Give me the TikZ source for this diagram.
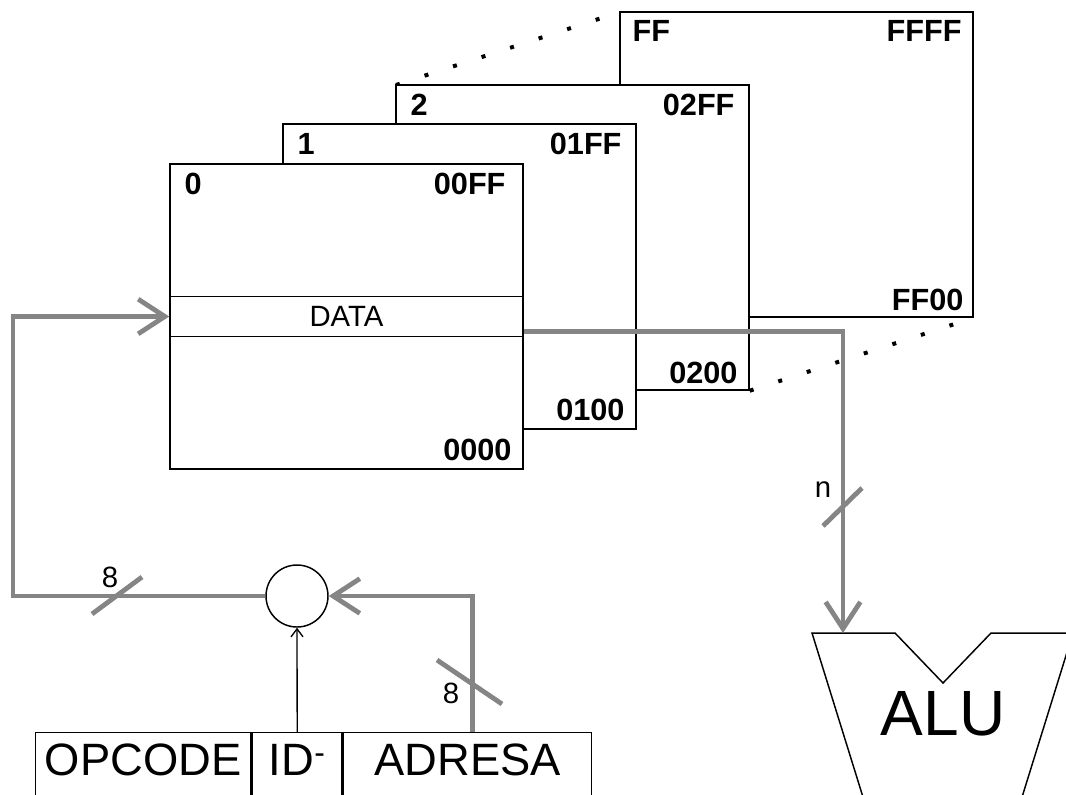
\documentclass[tikz,border=0pt]{standalone}
\usepackage{fontspec}
\setmainfont{Liberation Sans}
\usetikzlibrary{arrows.meta,positioning,calc}
\definecolor{busGray}{HTML}{858585}
\tikzset{
  page/.style={draw, line width=1.1pt, fill=white, minimum width=264.75pt, minimum height=228.75pt, inner sep=0pt},
  plbl/.style={font=\bfseries\fontsize{23}{23}\selectfont, inner sep=0pt},
  band/.style={draw, line width=1.1pt, fill=white, minimum width=264.75pt, minimum height=30pt, inner sep=0pt, font=\fontsize{22}{22}\selectfont},
  field/.style={draw, line width=1.1pt, inner sep=0pt, text height=32pt, text depth=20pt, font=\fontsize{34}{34}\selectfont},
  bus/.style={draw=busGray, line width=3.6pt},
  busarr/.style={bus, -{Straight Barb[length=20pt,width=26pt]}},
  slash/.style={draw=busGray, line width=3.6pt},
  wlbl/.style={font=\fontsize{22}{22}\selectfont, inner sep=0pt},
  dotline/.style={line width=3pt, dash pattern=on 3pt off 19.5pt},
  idarr/.style={line width=1pt, -{Straight Barb[length=6pt,width=9pt]}},
  alubody/.style={draw, line width=1.1pt, fill=white},
}

\begin{document}
\begin{tikzpicture}[x=0.75pt, y=-0.75pt]
  \useasboundingbox (0,0) rectangle (1066,794);
  \clip (0,0) rectangle (1066,794);
  % stacked pages
  \coordinate (dA) at (396,85);
  \coordinate (dB) at (620,12);
  \draw[dotline] (dA) -- (dB);
  \node[page] (pgFF) at (796.5,164.5) {};
  \node[page] (pg2) at (572.5,237.5) {};
  \node[page] (pg1) at (459.5,276.5) {};
  \node[page] (pg0) at (346.5,316.5) {};
  \draw[dotline] (pg2.south east) -- (pgFF.south east);
  \node[band] (data) at (pg0.center) {DATA};

  \node[plbl, anchor=north west] (t0) at ($(pg0.north west)+(15,10)$) {0};
  \node[plbl, anchor=north east] (r0) at ($(pg0.north east)+(-18,10)$) {00FF};
  \node[plbl, anchor=base east] (b0) at ($(pg0.south east)+(-12,-9)$) {0000};
  \node[plbl, anchor=north west] (t1) at ($(pg1.north west)+(15,10)$) {1};
  \node[plbl, anchor=north east] (r1) at ($(pg1.north east)+(-15,10)$) {01FF};
  \node[plbl, anchor=base east] (b1) at ($(pg1.south east)+(-12,-9)$) {0100};
  \node[plbl, anchor=north west] (t2) at ($(pg2.north west)+(15,10)$) {2};
  \node[plbl, anchor=north east] (r2) at ($(pg2.north east)+(-15,10)$) {02FF};
  \node[plbl, anchor=base east] (b2) at ($(pg2.south east)+(-12,-7)$) {0200};
  \node[plbl, anchor=north west] (tF) at ($(pgFF.north west)+(13,9)$) {FF};
  \node[plbl, anchor=north east] (rF) at ($(pgFF.north east)+(-12,9)$) {FFFF};
  \node[plbl, anchor=base east] (bF) at ($(pgFF.south east)+(-10,-7)$) {FF00};

  % instruction word
  \node[field, minimum width=161.25pt, anchor=north west] (opcode) at (35,732) {OPCODE};
  \node[field, minimum width=67.5pt, right=0pt of opcode] (idf) {ID\textsuperscript{-}};
  \node[field, minimum width=186pt, right=0pt of idf] (adresa) {ADRESA};
  \node[draw, circle, line width=1.1pt, minimum size=46.5pt, inner sep=0pt] (mux) at (297,596) {};

  % ALU
  \draw[alubody] (812,633) -- (895,633) -- (943,683) -- (991,633) -- (1073,633) -- (1018,810) -- (867,810) -- cycle;
  \node[font=\fontsize{48}{48}\selectfont, inner sep=0pt] (alu) at (943,714) {ALU};
  \coordinate (aluIn) at (843,633);
  \coordinate (loopL) at (13,596);

  % buses
  \draw[busarr] (mux.west) -- (loopL) |- (data.west);
  \draw[busarr] ($(adresa.north)+(5,0)$) |- (mux.east);
  \draw[idarr] (idf.north) -- (mux.south);
  \draw[busarr] ([yshift=-11.25pt]data.east) -| (aluIn);

  % bus widths
  \draw[slash] (92,614) -- (142,577);
  \node[wlbl] (w1) at (110,577) {8};
  \draw[slash] (437,660) -- (502,704);
  \node[wlbl] (w2) at (451,693) {8};
  \draw[slash] (823,526) -- (862,488);
  \node[wlbl] (w3) at (823,490) {n};
\end{tikzpicture}
\end{document}
